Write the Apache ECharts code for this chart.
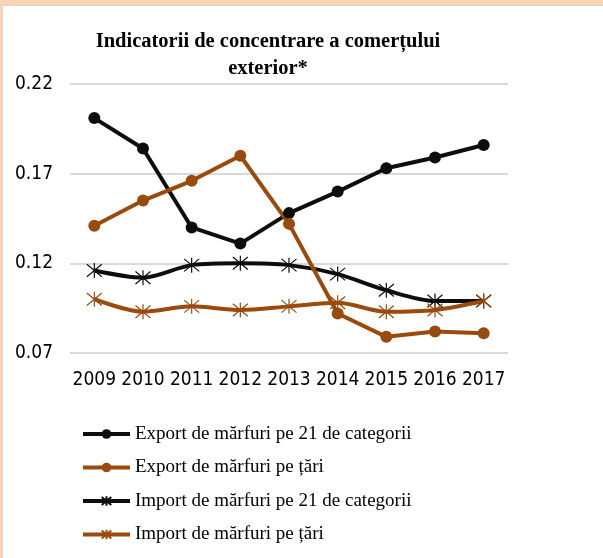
<!DOCTYPE html>
<html>
<head>
<meta charset="utf-8">
<script src="https://cdn.jsdelivr.net/npm/echarts@6/dist/echarts.min.js"></script>
<style>
  html, body { margin: 0; padding: 0; background: #fcd3b2; }
  #main {
    position: absolute;
    left: 2px;
    top: 5px;
    width: 600px;
    height: 552px;
    background: #ffffff;
    border-left: 1px solid #d6d6d6;
    border-top: 1px solid #d6d6d6;
  }
</style>
</head>
<body>
<div id="main"></div>
<script>
// 年份
var years = ["2009", "2010", "2011", "2012", "2013", "2014", "2015", "2016", "2017"];

// 各系列数据
var exportCategorii = [0.201, 0.184, 0.140, 0.131, 0.148, 0.160, 0.173, 0.179, 0.186];
var exportTari = [0.141, 0.155, 0.166, 0.180, 0.142, 0.092, 0.079, 0.082, 0.081];
var importCategorii = [0.116, 0.112, 0.119, 0.120, 0.119, 0.114, 0.105, 0.099, 0.099];
var importTari = [0.100, 0.093, 0.096, 0.094, 0.096, 0.098, 0.093, 0.094, 0.099];

// 纵轴刻度
var yMin = 0.07;
var yMax = 0.22;
var yStep = 0.05;

var black = "#0d0d0d";
var brown = "#9a4a0c";
var starPath = "path://M0,0L10,10M10,0L0,10M5,-1L5,11";

var serif = "'Liberation Serif', 'DejaVu Serif', serif";
var narrow = "'DejaVu Sans Condensed', 'Roboto', sans-serif";

var myChart = echarts.init(document.getElementById("main"));

// 线条系列
const makeSeries = (name, data, color, isStar) => {
  return {
    name: name,
    type: "line",
    data: data,
    smooth: isStar ? 0.3 : false,
    symbol: isStar ? starPath : "circle",
    symbolSize: isStar ? 15 : 12,
    showAllSymbol: true,
    lineStyle: { color: color, width: 4 },
    itemStyle: isStar
      ? { color: color, borderColor: color, borderWidth: 1.2 }
      : { color: color, borderWidth: 0 },
    emphasis: { disabled: true },
    z: isStar ? 2 : 3,
  };
};

var option = {
  animation: false,
  title: {
    text: "Indicatorii de concentrare a comerțului\nexterior*",
    left: 265,
    top: 22,
    padding: 0,
    textAlign: "center",
    textStyle: {
      fontFamily: serif,
      fontWeight: "bold",
      fontSize: 20.5,
      lineHeight: 27,
      color: "#000000",
    },
  },
  grid: {
    left: 67,
    right: 95,
    top: 78,
    bottom: 205,
    containLabel: false,
  },
  xAxis: {
    type: "category",
    data: years,
    boundaryGap: true,
    axisLine: { show: false },
    axisTick: { show: false },
    axisLabel: {
      interval: 0,
      margin: 18,
      fontFamily: narrow,
      fontSize: 19,
      color: "#000000",
    },
  },
  yAxis: {
    type: "value",
    min: yMin,
    max: yMax,
    interval: yStep,
    axisLine: { show: false },
    axisTick: { show: false },
    axisLabel: {
      margin: 17,
      fontFamily: narrow,
      fontSize: 19,
      color: "#000000",
      formatter: function (v) {
        return v.toFixed(2);
      },
    },
    splitLine: { lineStyle: { color: "#d9d9d9", width: 2 } },
  },
  legend: {
    orient: "vertical",
    left: 78,
    top: 418,
    itemWidth: 47,
    itemHeight: 12,
    itemGap: 13.5,
    padding: 0,
    lineStyle: { width: 4 },
    textStyle: {
      fontFamily: serif,
      fontSize: 19,
      lineHeight: 20,
      color: "#000000",
    },
    data: [
      "Export de mărfuri pe 21 de categorii",
      "Export de mărfuri pe țări",
      "Import de mărfuri pe 21 de categorii",
      "Import de mărfuri pe țări",
    ],
  },
  series: [
    makeSeries("Export de mărfuri pe 21 de categorii", exportCategorii, black, false),
    makeSeries("Export de mărfuri pe țări", exportTari, brown, false),
    makeSeries("Import de mărfuri pe 21 de categorii", importCategorii, black, true),
    makeSeries("Import de mărfuri pe țări", importTari, brown, true),
  ],
};

myChart.setOption(option);
</script>
</body>
</html>
